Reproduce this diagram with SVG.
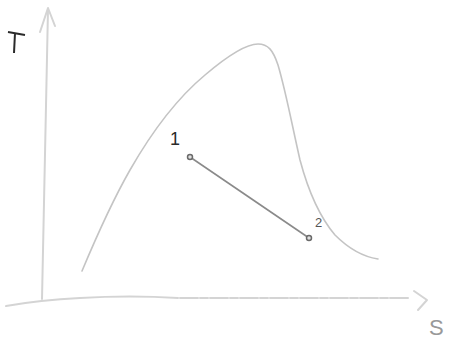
<svg xmlns="http://www.w3.org/2000/svg" width="449" height="342" viewBox="0 0 449 342">
<style>
.ax{fill:none;stroke:#d4d4d4;stroke-width:2;stroke-linecap:round;stroke-linejoin:round}
.dome{fill:none;stroke:#c4c4c4;stroke-width:1.6;stroke-linecap:round}
.proc{fill:none;stroke:#8a8a8a;stroke-width:1.6}
.pt{fill:#e0e0e0;stroke:#6a6a6a;stroke-width:1.5}
.lbl{font-family:"Liberation Sans",sans-serif;fill:#2a2a2a}
</style>
<rect width="449" height="342" fill="#fff"/>
<g id="axes">
<path class="ax" d="M42 299 L48 9"/>
<path class="ax" d="M40 32 L48 8 L55 26"/>
<path class="ax" d="M6 306 Q40 300 80 298 Q130 295 178 298"/>
<path class="ax" d="M180 298 L410 298" stroke-dasharray="18 2 8 2"/>
<path class="ax" d="M414 291 L427 300 L418 310" stroke="#c8c8c8"/>
</g>
<g id="labels">
<path d="M8 32 L25 35 M15 33 L14 53" fill="none" stroke="#2a2a2a" stroke-width="2"/>
<text class="lbl" x="429" y="335" font-size="22" style="fill:#999">S</text>
</g>
<g id="dome">
<path class="dome" d="M82 271 C95 240 110 205 130 170 C150 135 175 100 205 75 C225 58 245 44 258 44 C268 44 273 50 278 65 C286 92 292 125 300 160 C308 190 318 215 335 235 C350 250 365 257 378 259"/>
</g>
<g id="connectors">
<path class="proc" d="M190 157 L309 238"/>
</g>
<g id="node1">
<circle class="pt" cx="190" cy="157" r="2.5"/>
<text class="lbl" x="170" y="145" font-size="18">1</text>
</g>
<g id="node2">
<circle class="pt" cx="309" cy="238" r="2.5"/>
<text class="lbl" x="315" y="227" font-size="13" style="fill:#555">2</text>
</g>
</svg>
